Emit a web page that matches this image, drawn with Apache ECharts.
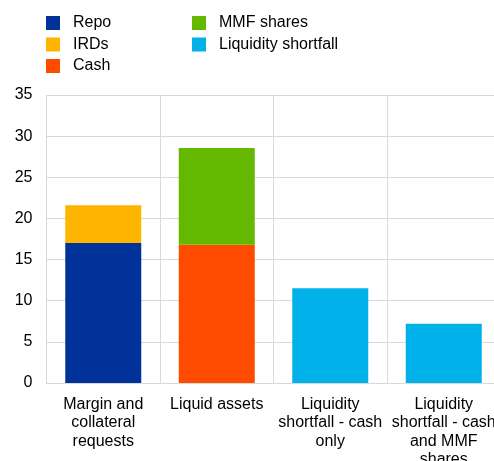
<!DOCTYPE html>
<html>
<head>
<meta charset="utf-8">
<script src="https://cdn.jsdelivr.net/npm/echarts@6/dist/echarts.min.js"></script>
<style>
  html, body { margin: 0; padding: 0; background: #fff; }
  #chart { width: 494px; height: 461px; }
</style>
</head>
<body>
<div id="chart"></div>
<script>
// categories and values (EUR bn)
var categories = [
  'Margin and\ncollateral\nrequests',
  'Liquid assets',
  'Liquidity\nshortfall - cash\nonly',
  'Liquidity\nshortfall - cash\nand MMF\nshares'
];
var repo = [17.0, '-', '-', '-'];
var irds = [4.6, '-', '-', '-'];
var cash = ['-', 16.8, '-', '-'];
var mmfShares = ['-', 11.75, '-', '-'];
var liquidityShortfall = ['-', '-', 11.5, 7.2];
var yTicks = { min: 0, max: 35, interval: 5 };

var colors = {
  'Repo': '#003299',
  'IRDs': '#ffb400',
  'Cash': '#ff4b00',
  'MMF shares': '#65b800',
  'Liquidity shortfall': '#00b1ea'
};

var font = 'Liberation Sans, Arial, sans-serif';
var chart = echarts.init(document.getElementById('chart'));

function bar(name, data) {
  return {
    name: name,
    type: 'bar',
    stack: 'total',
    data: data,
    barWidth: 76,
    itemStyle: { color: colors[name] }
  };
}

var legendBase = {
  orient: 'vertical',
  top: 15,
  padding: 0,
  itemWidth: 14,
  itemHeight: 14,
  itemGap: 5.5,
  icon: 'rect',
  textStyle: { fontSize: 16, color: '#000', fontFamily: font, padding: [0, 0, 0, 8] }
};

chart.setOption({
  animation: false,
  legend: [
    Object.assign({}, legendBase, { left: 46, data: ['Repo', 'IRDs', 'Cash'] }),
    Object.assign({}, legendBase, { left: 192, data: ['MMF shares', 'Liquidity shortfall'] })
  ],
  grid: { left: 46.5, top: 95, bottom: 78, width: 454, outerBoundsMode: 'none', containLabel: false },
  xAxis: {
    type: 'category',
    data: categories,
    axisTick: { show: false },
    axisLine: { lineStyle: { color: '#d9d9d9', width: 1 } },
    splitLine: { show: true, lineStyle: { color: '#d9d9d9' } },
    axisLabel: {
      interval: 0,
      margin: 12,
      fontSize: 16,
      lineHeight: 18.5,
      color: '#000',
      fontFamily: font,
      align: 'center'
    }
  },
  yAxis: {
    type: 'value',
    min: yTicks.min,
    max: yTicks.max,
    interval: yTicks.interval,
    axisLine: { show: false },
    axisTick: { show: false },
    splitLine: { lineStyle: { color: '#d9d9d9' } },
    axisLabel: { fontSize: 16, color: '#000', fontFamily: font, margin: 14 }
  },
  series: [
    bar('Repo', repo),
    bar('IRDs', irds),
    bar('Cash', cash),
    bar('MMF shares', mmfShares),
    bar('Liquidity shortfall', liquidityShortfall)
  ]
});
</script>
</body>
</html>
